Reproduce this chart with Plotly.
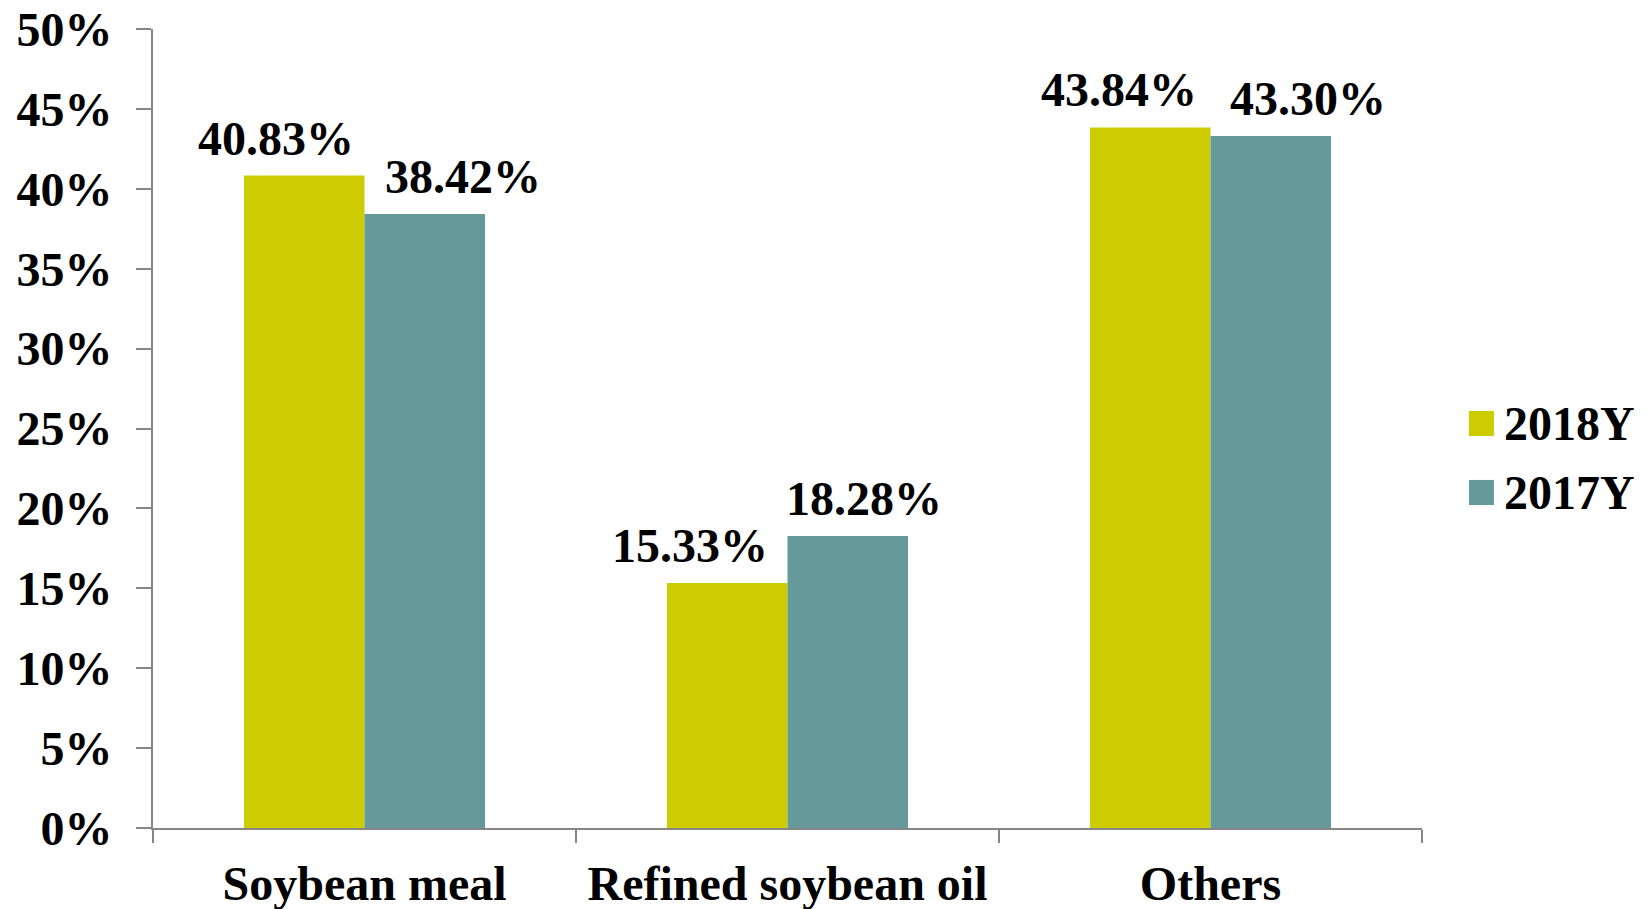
import plotly.graph_objects as go

categories = ["Soybean meal", "Refined soybean oil", "Others"]
values_2018 = [0.4083, 0.1533, 0.4384]
values_2017 = [0.3842, 0.1828, 0.4330]
series_names = ["2018Y", "2017Y"]
label_shift_2018 = [-89, -98, -92]
label_shift_2017 = [98, 76, 97]

FONT = "Liberation Serif"
FS = 48
AXIS_GRAY = "#868686"
COLORS = ["#CCCC00", "#669999"]

fig = go.Figure()
for name, vals, col in zip(series_names, (values_2018, values_2017), COLORS):
    fig.add_trace(go.Bar(name=name, x=categories, y=vals, showlegend=False,
                         marker=dict(color=col, line=dict(width=0))))

for vals, shifts in ((values_2018, label_shift_2018), (values_2017, label_shift_2017)):
    for c, v, s in zip(categories, vals, shifts):
        fig.add_annotation(x=c, y=v, text=f"<b>{v*100:.2f}%</b>", showarrow=False,
                           xanchor="center", yanchor="bottom", xshift=s, yshift=9,
                           font=dict(family=FONT, size=FS, color="black"))

# legend drawn manually (larger square swatches like the original)
legend_rows_y = [0.5063, 0.4199]
for name, col, yc in zip(series_names, COLORS, legend_rows_y):
    fig.add_shape(type="rect", xref="paper", yref="paper",
                  x0=1.037, x1=1.0567, y0=yc - 0.0157, y1=yc + 0.0157,
                  fillcolor=col, line=dict(width=0))
    fig.add_annotation(xref="paper", yref="paper", x=1.063, y=yc,
                       text=f"<b>{name}</b>", showarrow=False,
                       xanchor="left", yanchor="middle",
                       font=dict(family=FONT, size=FS, color="black"))

fig.update_layout(
    width=1648, height=909,
    margin=dict(l=153, r=226, t=29, b=81, autoexpand=False),
    plot_bgcolor="white", paper_bgcolor="white",
    barmode="group", bargap=0.43, bargroupgap=0,
    showlegend=False,
    font=dict(family=FONT, size=FS, color="black"),
    xaxis=dict(showline=True, linecolor=AXIS_GRAY, linewidth=2, ticks="outside",
               tickson="boundaries", ticklen=13, tickcolor=AXIS_GRAY, tickwidth=2,
               ticklabelstandoff=12,
               tickfont=dict(family=FONT, size=FS, color="black", weight="bold"),
               showgrid=False),
    yaxis=dict(range=[0, 0.5], dtick=0.05, tickformat=".0%", showline=True,
               linecolor=AXIS_GRAY, linewidth=2, ticks="outside", ticklen=15,
               tickcolor=AXIS_GRAY, tickwidth=2, showgrid=False, zeroline=False,
               ticklabelstandoff=14,
               tickfont=dict(family=FONT, size=FS, color="black", weight="bold")),
)

fig.write_html("out.html")
